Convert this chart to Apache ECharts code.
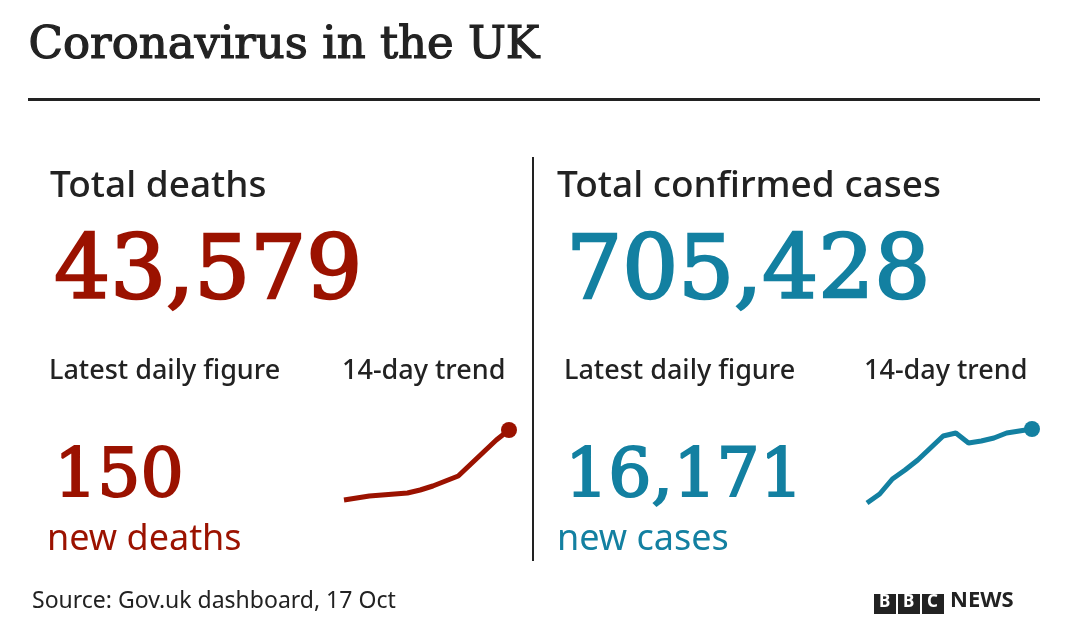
<!DOCTYPE html><html><head><meta charset="utf-8"><script src="https://cdn.jsdelivr.net/npm/echarts@6/dist/echarts.min.js"></script>
<style>html,body{margin:0;background:#fff}#c{width:1066px;height:633px}</style></head><body><div id="c"></div><script>
const days = ['1','2','3','4','5','6','7','8','9','10','11','12','13','14'];
const deathsTrend = [10,12,14,15,16,17,20,24,29,34,46,58,70,80];
const casesTrend = [7,16,31,40,50,62,74,77,67,69,72,77,79,81];
const totalDeaths = '43,579', totalCases = '705,428', dailyDeaths = '150', dailyCases = '16,171';
const red = '#9b1200', blue = '#1380a1', dark = '#222';
const serif = '"DejaVu Serif", serif', sans = '"Noto Sans", sans-serif';
const c = echarts.init(document.getElementById('c'));
function T(x,y,text,size,color,font,weight,sw){const st={text,fontSize:size,fill:color,fontFamily:font,fontWeight:weight||'normal'};if(sw){st.stroke=color;st.lineWidth=sw;}return {type:'text',left:x,top:y,style:st};}
function line(data,color,left){return {type:'line',data,xAxisIndex:left,yAxisIndex:left,smooth:false,symbol:'none',lineStyle:{color,width:5},
 markPoint:{symbol:'circle',symbolSize:16,itemStyle:{color},label:{show:false},data:[{coord:[13,data[13]]}]},silent:true,animation:false};}
c.setOption({animation:false,
 grid:[{left:344,width:165,top:425,height:85},{left:867,width:165,top:425,height:85}],
 xAxis:[0,1].map(i=>({gridIndex:i,type:'category',data:days,boundaryGap:false,show:false})),
 yAxis:[0,1].map(i=>({gridIndex:i,type:'value',min:0,max:85,show:false})),
 series:[line(deathsTrend,red,0),line(casesTrend,blue,1)],
 graphic:[
  T(28,23,'Coronavirus in the UK',45,dark,serif,'normal',1.2),
  {type:'rect',shape:{x:28,y:98,width:1012,height:3},style:{fill:dark}},
  {type:'rect',shape:{x:532,y:157,width:2,height:404},style:{fill:dark}},
  T(50,168,'Total deaths',37,dark,sans,500),
  T(53,230,totalDeaths,88,red,serif,'normal',2.5),
  T(49,358,'Latest daily figure',27,dark,sans,500),
  T(342,358,'14-day trend',27,dark,sans,500),
  T(53,443,dailyDeaths,68,red,serif,'normal',2),
  T(47,522,'new deaths',36,red,sans),
  T(557,168,'Total confirmed cases',37,dark,sans,500),
  T(565,230,totalCases,88,blue,serif,'normal',2.5),
  T(564,358,'Latest daily figure',27,dark,sans,500),
  T(864,358,'14-day trend',27,dark,sans,500),
  T(564,443,dailyCases,68,blue,serif,'normal',2),
  T(557,522,'new cases',36,blue,sans),
  T(32,590,'Source: Gov.uk dashboard, 17 Oct',23,dark,sans),
  ...[0,1,2].map(i=>({type:'rect',shape:{x:874+i*24,y:594,width:22,height:20},style:{fill:dark}})),
  ...['B','B','C'].map((s,i)=>({type:'text',left:879+i*24,top:594,style:{text:s,fontSize:17,fontWeight:'bold',fill:'#fff',fontFamily:sans}})),
  T(950,590,'NEWS',22,dark,sans,'bold')
 ]});
</script></body></html>
